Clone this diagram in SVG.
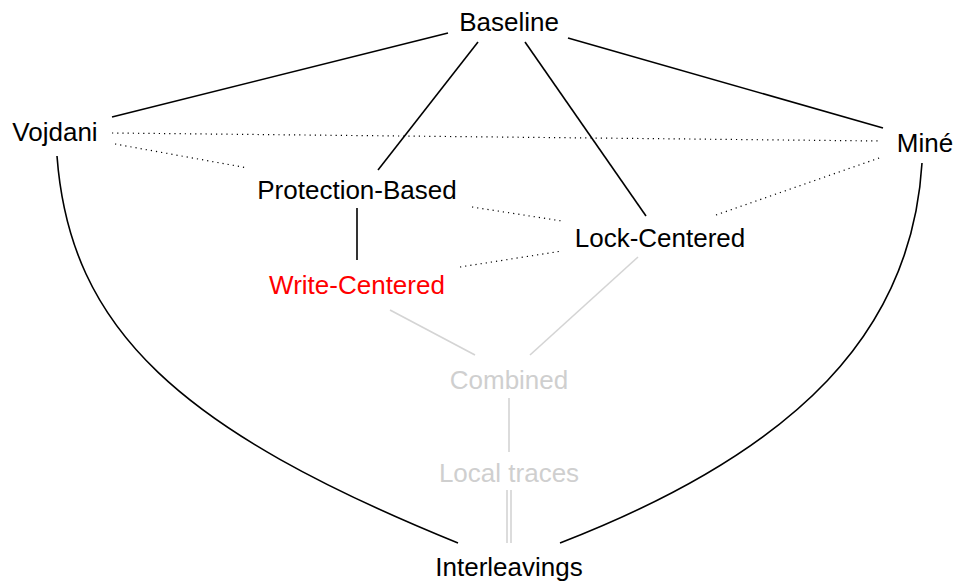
<svg xmlns="http://www.w3.org/2000/svg" width="958" height="581" viewBox="0 0 958 581">
<style>
text{font-family:"Liberation Sans","DejaVu Sans",sans-serif;font-size:26px;text-anchor:middle;fill:#000}
.g{fill:#cfcfcf}
.r{fill:#ff0000}
.s{stroke:#000;stroke-width:1.6;fill:none}
.d{stroke:#000;stroke-width:1.2;fill:none;stroke-dasharray:1.2 4}
.l{stroke:#d4d4d4;stroke-width:1.6;fill:none}
</style>
<rect width="958" height="581" fill="#fff"/>
<g id="connectors">
<line class="s" x1="448" y1="33" x2="112" y2="117"/>
<line class="s" x1="478" y1="42" x2="378" y2="170"/>
<line class="s" x1="525" y1="42" x2="646" y2="216"/>
<line class="s" x1="568" y1="38" x2="883" y2="128"/>
<line class="d" x1="112" y1="133" x2="880" y2="141"/>
<line class="d" x1="115" y1="144" x2="248" y2="168"/>
<line class="d" x1="472" y1="207" x2="562" y2="221"/>
<line class="d" x1="460" y1="267" x2="562" y2="251"/>
<line class="d" x1="716" y1="215" x2="882" y2="157"/>
<line class="s" x1="357" y1="208" x2="357" y2="260"/>
<line class="l" x1="390" y1="310" x2="475" y2="355"/>
<line class="l" x1="638" y1="257" x2="530" y2="355"/>
<line class="l" x1="509" y1="398" x2="509" y2="452"/>
<line class="l" x1="507" y1="490" x2="507" y2="543" stroke-width="1.2"/>
<line class="l" x1="511" y1="490" x2="511" y2="543" stroke-width="1.2"/>
<path class="s" d="M57,156 C70,330 180,430 458,543"/>
<path class="s" d="M922,163 C912,330 800,450 560,543"/>
</g>
<g id="baseline"><text x="509" y="31">Baseline</text></g>
<g id="vojdani"><text x="55" y="141">Vojdani</text></g>
<g id="mine"><text x="925" y="152">Miné</text></g>
<g id="protection"><text x="357" y="199">Protection-Based</text></g>
<g id="lock"><text x="660" y="247">Lock-Centered</text></g>
<g id="write"><text class="r" x="357" y="294">Write-Centered</text></g>
<g id="combined"><text class="g" x="509" y="389">Combined</text></g>
<g id="local"><text class="g" x="509" y="482">Local traces</text></g>
<g id="interleavings"><text x="509" y="576">Interleavings</text></g>
</svg>
